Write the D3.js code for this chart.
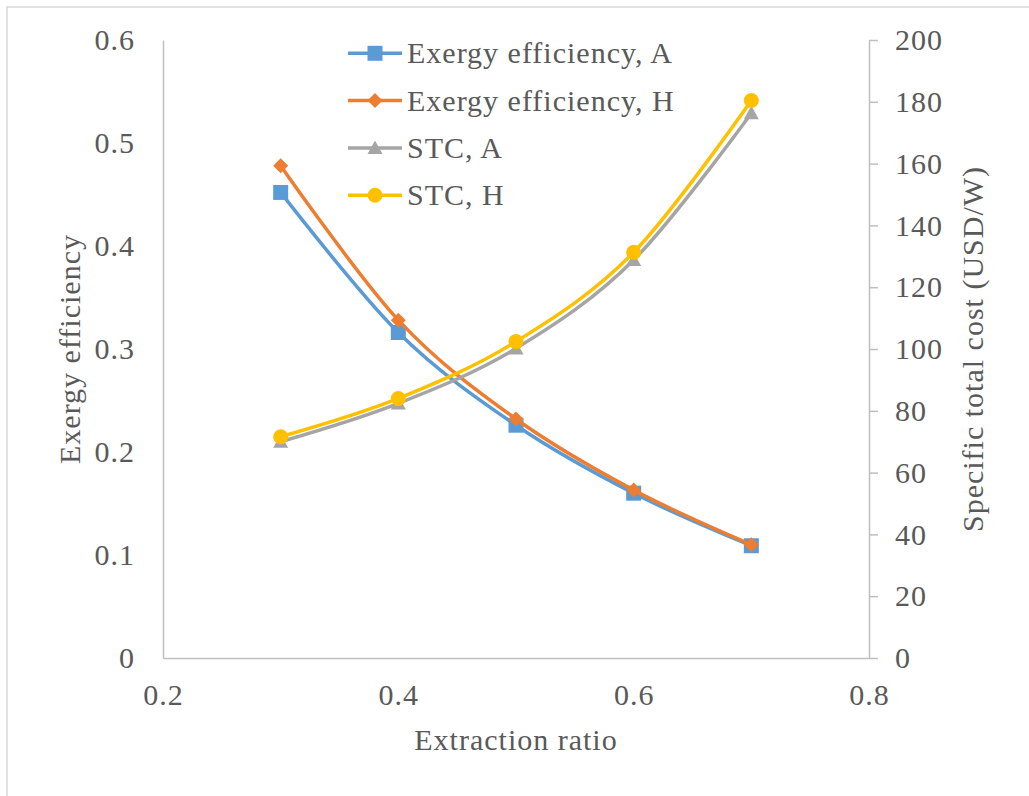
<!DOCTYPE html>
<html><head><meta charset="utf-8">
<script src="https://cdn.jsdelivr.net/npm/d3@7"></script>
<style>
html,body{margin:0;padding:0;background:#fff;}
svg text{font-family:"Liberation Serif","Times New Roman",serif;font-size:30px;letter-spacing:1px;fill:#595959;}
</style></head>
<body>
<svg id="chart" width="1029" height="796"></svg>
<script>
// ---- data ----
const extractionRatio = [0.3, 0.4, 0.5, 0.6, 0.7];
const exergyA = [0.452, 0.316, 0.226, 0.160, 0.109];
const exergyH = [0.478, 0.328, 0.232, 0.163, 0.110];
const stcA = [70.0, 82.4, 100.2, 128.8, 176.3];
const stcH = [71.6, 84.0, 102.4, 131.3, 180.4];
const seriesNames = ["Exergy efficiency, A", "Exergy efficiency, H", "STC, A", "STC, H"];
const seriesColors = ["#5B9BD5", "#ED7D31", "#A5A5A5", "#FFC000"];
const seriesMarkers = ["square", "diamond", "triangle", "circle"];
const xTicks = [0.2, 0.4, 0.6, 0.8];
const leftTicks = [0, 0.1, 0.2, 0.3, 0.4, 0.5, 0.6];
const rightTicks = [0, 20, 40, 60, 80, 100, 120, 140, 160, 180, 200];
const xTitle = "Extraction ratio";
const leftTitle = "Exergy efficiency";
const rightTitle = "Specific total cost (USD/W)";

// ---- layout ----
const svg = d3.select("#chart");
const L = 163, R = 869, T = 40, B = 658;
const x = d3.scaleLinear().domain([0.2, 0.8]).range([L, R]);
const yL = d3.scaleLinear().domain([0, 0.6]).range([B, T]);
const yR = d3.scaleLinear().domain([0, 200]).range([B, T]);

// outer border
svg.append("path").attr("d", "M7,800V7H1040").attr("fill", "none")
  .attr("stroke", "#d9d9d9").attr("stroke-width", 1.5);

const axisColor = "#bfbfbf";
function styleAxis(g) {
  g.selectAll(".domain").attr("stroke", axisColor).attr("stroke-width", 1.5);
  g.selectAll(".tick line").attr("stroke", axisColor).attr("stroke-width", 1.5);
  g.selectAll("text").attr("fill", "#595959").style("font-size", "30px");
  g.attr("font-family", null).attr("font-size", null);
}

// bottom axis
svg.append("g").attr("transform", `translate(0,${B})`)
  .call(d3.axisBottom(x).tickValues(xTicks).tickSize(0).tickPadding(26).tickFormat(d => String(d)))
  .call(styleAxis);
// left axis
svg.append("g").attr("transform", `translate(${L},0)`)
  .call(d3.axisLeft(yL).tickValues(leftTicks).tickSize(0).tickPadding(28).tickFormat(d => String(d)))
  .call(styleAxis);
// right axis
svg.append("g").attr("transform", `translate(${R},0)`)
  .call(d3.axisRight(yR).tickValues(rightTicks).tickSizeInner(9).tickSizeOuter(0).tickPadding(17).tickFormat(d => String(d)))
  .call(styleAxis);

// axis titles
svg.append("text").attr("x", (L + R) / 2).attr("y", 750).attr("text-anchor", "middle").text(xTitle);
svg.append("text").attr("transform", `translate(80,${(T + B) / 2}) rotate(-90)`)
  .attr("text-anchor", "middle").text(leftTitle);
svg.append("text").attr("transform", `translate(983,${(T + B) / 2}) rotate(-90)`)
  .attr("text-anchor", "middle").text(rightTitle);

// markers
function markerPath(type, cx, cy) {
  const h = 7.5;
  if (type === "square") return `M${cx - h},${cy - h}h${2 * h}v${2 * h}h${-2 * h}Z`;
  if (type === "diamond") return `M${cx},${cy - h}L${cx + h},${cy}L${cx},${cy + h}L${cx - h},${cy}Z`;
  if (type === "triangle") return `M${cx},${cy - 7.5}L${cx + 7.5},${cy + 6}L${cx - 7.5},${cy + 6}Z`;
  return `M${cx - h},${cy}a${h},${h} 0 1,0 ${2 * h},0a${h},${h} 0 1,0 ${-2 * h},0Z`;
}

const series = [
  { vals: exergyA, y: yL },
  { vals: exergyH, y: yL },
  { vals: stcA, y: yR },
  { vals: stcH, y: yR }
];

series.forEach((s, i) => {
  const pts = extractionRatio.map((r, j) => [x(r), s.y(s.vals[j])]);
  const line = d3.line().curve(d3.curveCatmullRom.alpha(0));
  const g = svg.append("g");
  g.append("path").attr("d", line(pts)).attr("fill", "none")
    .attr("stroke", seriesColors[i]).attr("stroke-width", 3.5).attr("stroke-linejoin", "round");
  g.selectAll("path.m").data(pts).join("path").attr("class", "m")
    .attr("d", p => markerPath(seriesMarkers[i], p[0], p[1]))
    .attr("fill", seriesColors[i]);
});

// legend
const legY0 = 53.3, legDy = 47.3;
seriesNames.forEach((name, i) => {
  const cy = legY0 + i * legDy;
  const g = svg.append("g");
  g.append("line").attr("x1", 348).attr("x2", 402).attr("y1", cy).attr("y2", cy)
    .attr("stroke", seriesColors[i]).attr("stroke-width", 3.5);
  g.append("path").attr("d", markerPath(seriesMarkers[i], 375, cy)).attr("fill", seriesColors[i]);
  g.append("text").attr("x", 407).attr("y", cy + 10).text(name);
});
</script>
</body></html>
